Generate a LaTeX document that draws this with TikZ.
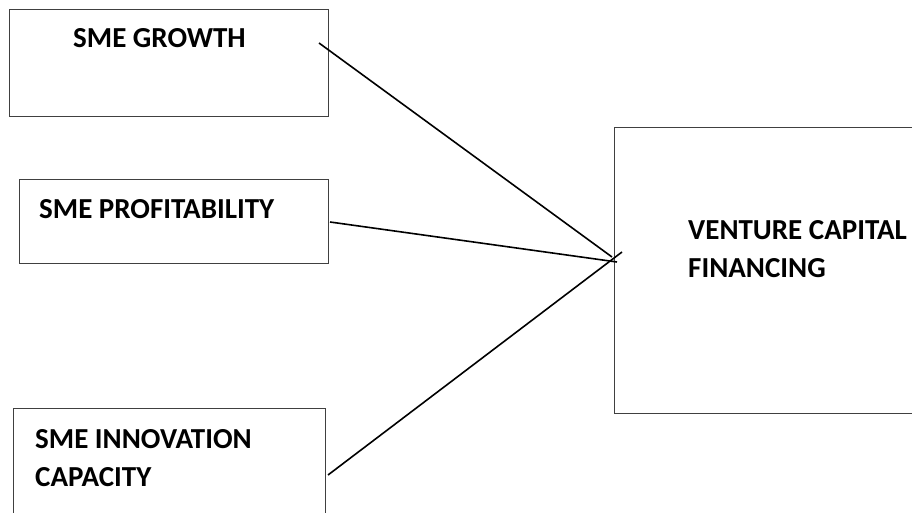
\documentclass[tikz,border=0pt]{standalone}
\usepackage{fontspec}
\setmainfont{Carlito}
\usepackage{tikz}
\usetikzlibrary{positioning, calc}
\tikzstyle{factorBox}=[draw=black!75, line width=1.1pt, rectangle, inner sep=0pt, anchor=north west]
\tikzstyle{boxLabel}=[font=\fontsize{29}{38}\selectfont\bfseries, anchor=base west, inner sep=0pt, align=left]
\tikzstyle{link}=[line width=1.6pt, draw=black]

\begin{document}
\begin{tikzpicture}[x=1pt, y=-1pt]
      \useasboundingbox (0,0) rectangle (912,513);
      % boxes
      \node[factorBox, minimum width=319, minimum height=107] (growth) at (9,9) {};
      \node[factorBox, minimum width=309, minimum height=84] (profit) at (19,179) {};
      \node[factorBox, minimum width=312, minimum height=130] (innov) at (13,408) {};
      \node[factorBox, minimum width=330, minimum height=286] (vcf) at (614,127) {};
      % labels (base = last line)
      \node[boxLabel] (growthText) at (73,48) {SME GROWTH};
      \node[boxLabel] (profitText) at (39,218) {SME PROFITABILITY};
      \node[boxLabel] (innovText) at (35,486) {SME INNOVATION\\CAPACITY};
      \node[boxLabel] (vcfText) at (688,277) {VENTURE CAPITAL\\FINANCING};
      % end points
      \coordinate (g) at (319,43);
      \coordinate (p) at (330,222);
      \coordinate (i) at (328,475);
      \coordinate (gv) at (612,257);
      \coordinate (pv) at (617,262);
      \coordinate (iv) at (622,252);
      \draw[link] (g) -- (gv);
      \draw[link] (p) -- (pv);
      \draw[link] (i) -- (iv);
\end{tikzpicture}
\end{document}
